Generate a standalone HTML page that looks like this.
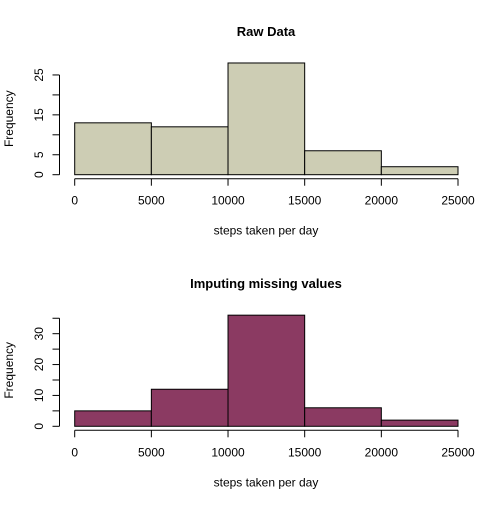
<!DOCTYPE html>
<html><head><style>
body{margin:0;background:#fff;}
svg text{font-family:"Liberation Sans",Arial,sans-serif;fill:#000;}
</style></head><body>
<svg id="c" width="504" height="504" xmlns="http://www.w3.org/2000/svg"></svg>
<script>
const breaks = [0, 5000, 10000, 15000, 20000, 25000];
const xTicks = [0, 5000, 10000, 15000, 20000, 25000];
const rawCounts = [13, 12, 28, 6, 2];
const imputedCounts = [5, 12, 36, 6, 2];
const rawYTicks = [0, 5, 10, 15, 20, 25];
const rawYLabels = ["0", "5", "", "15", "", "25"];
const impYTicks = [0, 5, 10, 15, 20, 25, 30, 35];
const impYLabels = ["0", "", "10", "", "20", "", "30", ""];
const NS = "http://www.w3.org/2000/svg";
const svg = document.getElementById('c');
function mk(tag, attrs, parent) {
  const e = document.createElementNS(NS, tag);
  for (const k in attrs) e.setAttribute(k, attrs[k]);
  (parent || svg).appendChild(e);
  return e;
}
function panel(cfg) {
  const g = mk('g', {});
  
  
  const x = v => 74.7 + (v - 0) * (458 - 74.7) / 25000;
  const y = v => cfg.y0 - v * cfg.ppu;
  const t = mk('text', {x: 266, y: cfg.titleY, 'text-anchor': 'middle', 'font-size': 13, 'font-weight': 'bold'}, g);
  t.textContent = cfg.title;
  
  
  cfg.counts.forEach((c, i) => {
    const r = mk('rect', {x: x(breaks[i]), y: y(c), width: x(breaks[i+1]) - x(breaks[i]), height: c * cfg.ppu, fill: cfg.fill, stroke: '#000', 'stroke-width': 1}, g);
    
    
  });
  const ax = mk('g', {}, g);
  
  
  const ay0 = cfg.y0 + 4;
  mk('line', {x1: x(xTicks[0]), x2: x(xTicks[xTicks.length-1]), y1: ay0, y2: ay0, stroke: '#000'}, ax);
  xTicks.forEach(v => {
    mk('line', {x1: x(v), x2: x(v), y1: ay0, y2: ay0 + 7, stroke: '#000'}, ax);
    const tl = mk('text', {x: x(v), y: ay0 + 26, 'text-anchor': 'middle', 'font-size': 12}, ax);
    tl.textContent = v;
    
    
  });
  const xt = mk('text', {x: 266, y: ay0 + 56, 'text-anchor': 'middle', 'font-size': 12}, g);
  xt.textContent = 'steps taken per day';
  
  
  const ayg = mk('g', {}, g);
  
  
  const axx = 59.5;
  mk('line', {x1: axx, x2: axx, y1: y(cfg.yTicks[0]), y2: y(cfg.yTicks[cfg.yTicks.length-1]), stroke: '#000'}, ayg);
  cfg.yTicks.forEach((v, i) => {
    mk('line', {x1: axx - 7, x2: axx, y1: y(v), y2: y(v), stroke: '#000'}, ayg);
    if (cfg.yLabels[i]) {
      const yl = mk('text', {x: 0, y: 0, 'text-anchor': 'middle', 'font-size': 12, transform: `translate(43,${y(v)}) rotate(-90)`}, ayg);
      yl.textContent = cfg.yLabels[i];
      
      
    }
  });
  const yt = mk('text', {x: 0, y: 0, 'text-anchor': 'middle', 'font-size': 12, transform: `translate(13,${cfg.y0 - 56}) rotate(-90)`}, g);
  yt.textContent = 'Frequency';
  
  
}
panel({name: 'raw-data-histogram', title: 'Raw Data', titleY: 36, y0: 174.7, ppu: 3.99, counts: rawCounts, fill: '#cdcdb4', yTicks: rawYTicks, yLabels: rawYLabels});
panel({name: 'imputed-histogram', title: 'Imputing missing values', titleY: 288, y0: 426.3, ppu: 3.087, counts: imputedCounts, fill: '#8b3a62', yTicks: impYTicks, yLabels: impYLabels});
</script>
</body></html>
